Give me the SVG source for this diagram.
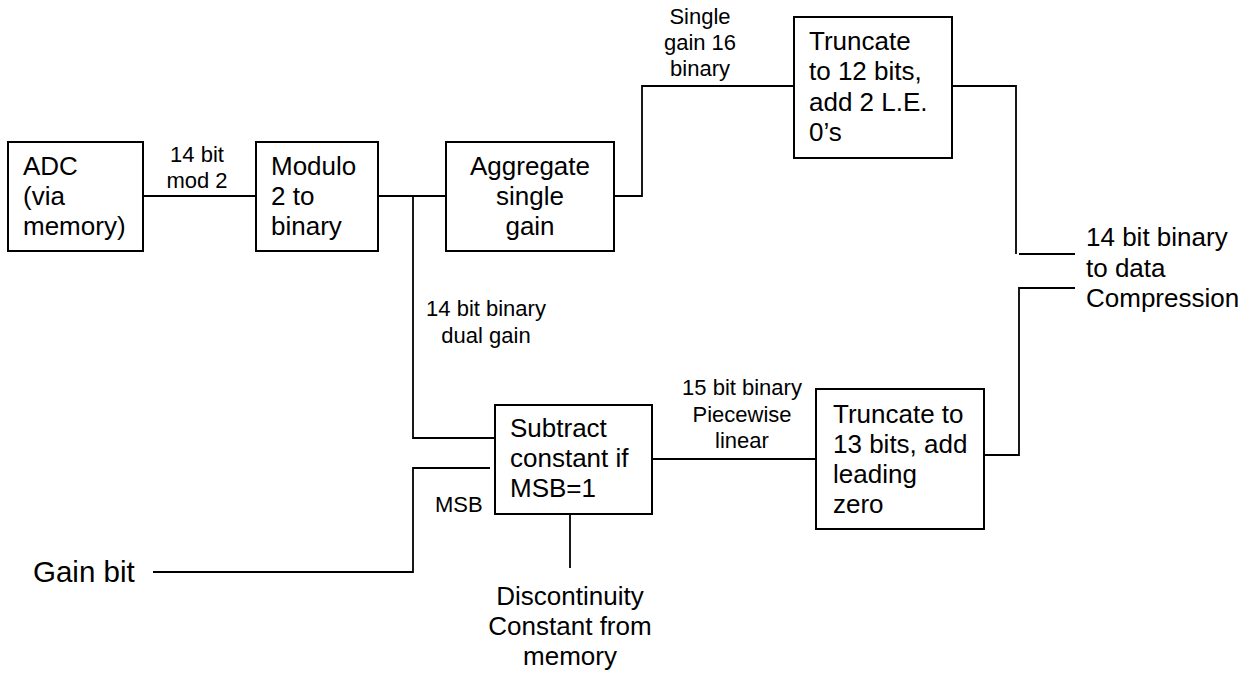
<svg xmlns="http://www.w3.org/2000/svg" width="1246" height="675" viewBox="0 0 1246 675">
<style>
.box{fill:#fff;stroke:#000;stroke-width:2}
.ln{fill:none;stroke:#000;stroke-width:1.8}
.t{font-family:"Liberation Sans",Arial,sans-serif;font-size:26px;fill:#000}
.s{font-family:"Liberation Sans",Arial,sans-serif;font-size:22px;fill:#000}
.g{font-family:"Liberation Sans",Arial,sans-serif;font-size:29.5px;fill:#000}
.c{text-anchor:middle}
</style>
<rect width="1246" height="675" fill="#fff"/>
<g id="connectors">
<path class="ln" d="M143 196H256"/>
<path class="ln" d="M378 196H446"/>
<path class="ln" d="M413 196V438H495"/>
<path class="ln" d="M614 196H642V86H794"/>
<path class="ln" d="M952 86H1016V254"/>
<path class="ln" d="M1019 254H1075"/>
<path class="ln" d="M1075 288H1019V455H984"/>
<path class="ln" d="M652 459H816"/>
<path class="ln" d="M490 468H413V572H153"/>
<path class="ln" d="M570 514V568"/>
</g>
<g id="adc">
<rect class="box" x="8" y="142" width="135" height="109"/>
<text class="t" x="23" y="175">ADC</text>
<text class="t" x="23" y="205">(via</text>
<text class="t" x="23" y="235">memory)</text>
</g>
<g id="modulo">
<rect class="box" x="256" y="142" width="122" height="109"/>
<text class="t" x="271" y="175">Modulo</text>
<text class="t" x="271" y="205">2 to</text>
<text class="t" x="271" y="235">binary</text>
</g>
<g id="aggregate">
<rect class="box" x="446" y="142" width="168" height="109"/>
<text class="t c" x="530" y="175">Aggregate</text>
<text class="t c" x="530" y="205">single</text>
<text class="t c" x="530" y="235">gain</text>
</g>
<g id="truncate12">
<rect class="box" x="794" y="17" width="158" height="141"/>
<text class="t" x="809" y="50">Truncate</text>
<text class="t" x="809" y="80">to 12 bits,</text>
<text class="t" x="809" y="111">add 2 L.E.</text>
<text class="t" x="809" y="141">0’s</text>
</g>
<g id="subtract">
<rect class="box" x="495" y="405" width="157" height="109"/>
<text class="t" x="510" y="437">Subtract</text>
<text class="t" x="510" y="467">constant if</text>
<text class="t" x="510" y="497">MSB=1</text>
</g>
<g id="truncate13">
<rect class="box" x="816" y="389" width="168" height="140"/>
<text class="t" x="833" y="423">Truncate to</text>
<text class="t" x="833" y="453">13 bits, add</text>
<text class="t" x="833" y="483">leading</text>
<text class="t" x="833" y="513">zero</text>
</g>
<g id="output">
<text class="t" x="1086" y="246">14 bit binary</text>
<text class="t" x="1086" y="277">to data</text>
<text class="t" x="1086" y="307">Compression</text>
</g>
<g id="gainbit">
<text class="g" x="33" y="582">Gain bit</text>
</g>
<g id="discontinuity">
<text class="t c" x="570" y="605">Discontinuity</text>
<text class="t c" x="570" y="635">Constant from</text>
<text class="t c" x="570" y="665">memory</text>
</g>
<g id="labels">
<text class="s c" x="197" y="162">14 bit</text>
<text class="s c" x="197" y="188">mod 2</text>
<text class="s c" x="700" y="24">Single</text>
<text class="s c" x="700" y="50">gain 16</text>
<text class="s c" x="700" y="76">binary</text>
<text class="s c" x="486" y="316">14 bit binary</text>
<text class="s c" x="486" y="343">dual gain</text>
<text class="s c" x="742" y="395">15 bit binary</text>
<text class="s c" x="742" y="422">Piecewise</text>
<text class="s c" x="742" y="448">linear</text>
<text class="s" x="435" y="512">MSB</text>
</g>
</svg>
